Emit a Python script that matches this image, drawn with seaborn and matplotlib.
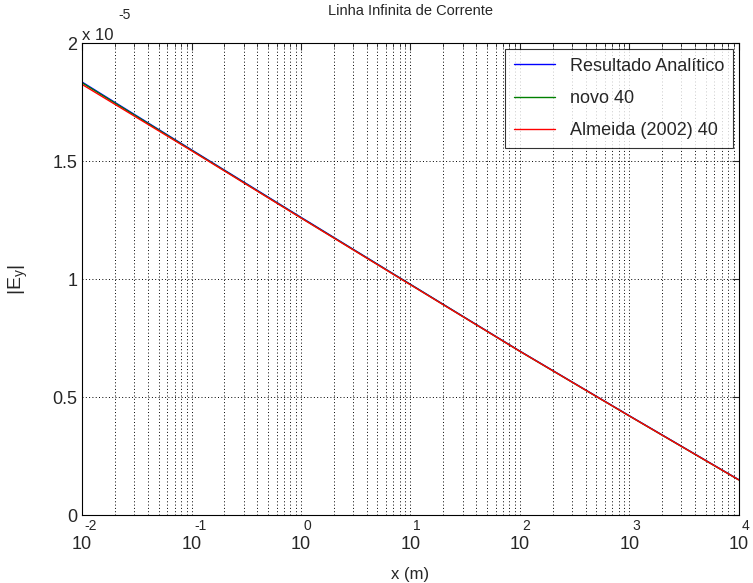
import pandas as pd
import numpy as np
import matplotlib
matplotlib.use('Agg')
import matplotlib.pyplot as plt
import matplotlib.ticker as mticker
import seaborn as sns

# ── Data ──────────────────────────────────────────────────────────────────────
x_m = [1e-2, 1e-1, 1e0, 1e1, 1e2, 1e3, 1e4]
ey_analitico = [1.835e-5, 1.548e-5, 1.262e-5, 0.978e-5, 0.695e-5, 0.421e-5, 0.150e-5]
ey_novo      = [1.832e-5, 1.546e-5, 1.260e-5, 0.977e-5, 0.694e-5, 0.420e-5, 0.149e-5]
ey_almeida   = [1.825e-5, 1.544e-5, 1.259e-5, 0.976e-5, 0.694e-5, 0.420e-5, 0.149e-5]

SERIES = ['Resultado Analítico', 'novo 40', 'Almeida (2002) 40']
COLORS = {'Resultado Analítico': '#0000ff',
          'novo 40':             '#008000',
          'Almeida (2002) 40':   '#ff0000'}

X_DECADES = [-2, -1, 0, 1, 2, 3, 4]
Y_TICKS = [0, 0.5e-5, 1e-5, 1.5e-5, 2e-5]

df = pd.concat([
    pd.DataFrame({'x': x_m, 'Ey': ey_analitico, 'serie': SERIES[0]}),
    pd.DataFrame({'x': x_m, 'Ey': ey_novo,      'serie': SERIES[1]}),
    pd.DataFrame({'x': x_m, 'Ey': ey_almeida,   'serie': SERIES[2]}),
], ignore_index=True)

# ── Style ─────────────────────────────────────────────────────────────────────
sns.set_style('white')
plt.rcParams['font.family'] = ['Liberation Sans', 'DejaVu Sans']
plt.rcParams['mathtext.fontset'] = 'custom'
plt.rcParams['mathtext.rm'] = 'Liberation Sans'

fig = plt.figure(figsize=(7.53, 5.83), dpi=100)
ax = fig.add_axes([0.109, 0.1166, 0.872, 0.8094])

sns.lineplot(data=df, x='x', y='Ey', hue='serie', hue_order=SERIES,
             palette=COLORS, linewidth=1.0, ax=ax, legend=True)

ax.set_xscale('log')
ax.set_xlim(1e-2, 1e4)
ax.set_ylim(0, 2e-5)
ax.set_yticks(Y_TICKS)
ax.yaxis.set_major_formatter(mticker.FuncFormatter(lambda v, p: f'{v/1e-5:g}'))

# x ticks: MATLAB-like "10" with the exponent drawn above-right
ax.set_xticks([10.0 ** d for d in X_DECADES])
ax.set_xticklabels(['10'] * len(X_DECADES))
ax.xaxis.set_minor_locator(mticker.LogLocator(base=10, subs=np.arange(2, 10), numticks=100))
ax.xaxis.set_minor_formatter(mticker.NullFormatter())
for d in X_DECADES:
    ax.annotate(str(d), xy=(10.0 ** d, 0), xycoords=('data', 'axes fraction'),
                xytext=(2, -8), textcoords='offset points',
                fontsize=10, ha='left', va='center', annotation_clip=False)

grid_ls = (0, (1, 2.4))
ax.grid(True, which='major', axis='both', linestyle=grid_ls, color='black', linewidth=0.7)
ax.grid(True, which='minor', axis='x', linestyle=grid_ls, color='black', linewidth=0.7)
ax.tick_params(which='both', direction='in', top=True, right=True, labelsize=13)
ax.tick_params(axis='x', which='major', pad=15)
ax.tick_params(which='major', length=5)
ax.tick_params(which='minor', length=3)
for s in ax.spines.values():
    s.set_color('black')
    s.set_linewidth(0.8)

# y multiplier "x 10^-5"
ax.text(0.0, 1.0, 'x 10', transform=ax.transAxes, fontsize=12,
        ha='left', va='bottom')
ax.annotate('-5', xy=(0.0, 1.0), xycoords='axes fraction',
            xytext=(26, 15), textcoords='offset points',
            fontsize=10, ha='left', va='bottom')

ax.set_title('Linha Infinita de Corrente', fontsize=10.5, pad=20)
ax.set_xlabel('x (m)', fontsize=12, labelpad=10)
ax.set_ylabel(r'|E$_\mathrm{y}$|', fontsize=14, labelpad=16)

leg = ax.legend(loc='upper right', fontsize=13, frameon=True, fancybox=False,
                edgecolor='black', handlelength=2.3, borderpad=0.5,
                labelspacing=0.85, borderaxespad=0.3)
leg.get_frame().set_linewidth(0.8)

plt.savefig('out.png', dpi=100, facecolor='white')
plt.close()
